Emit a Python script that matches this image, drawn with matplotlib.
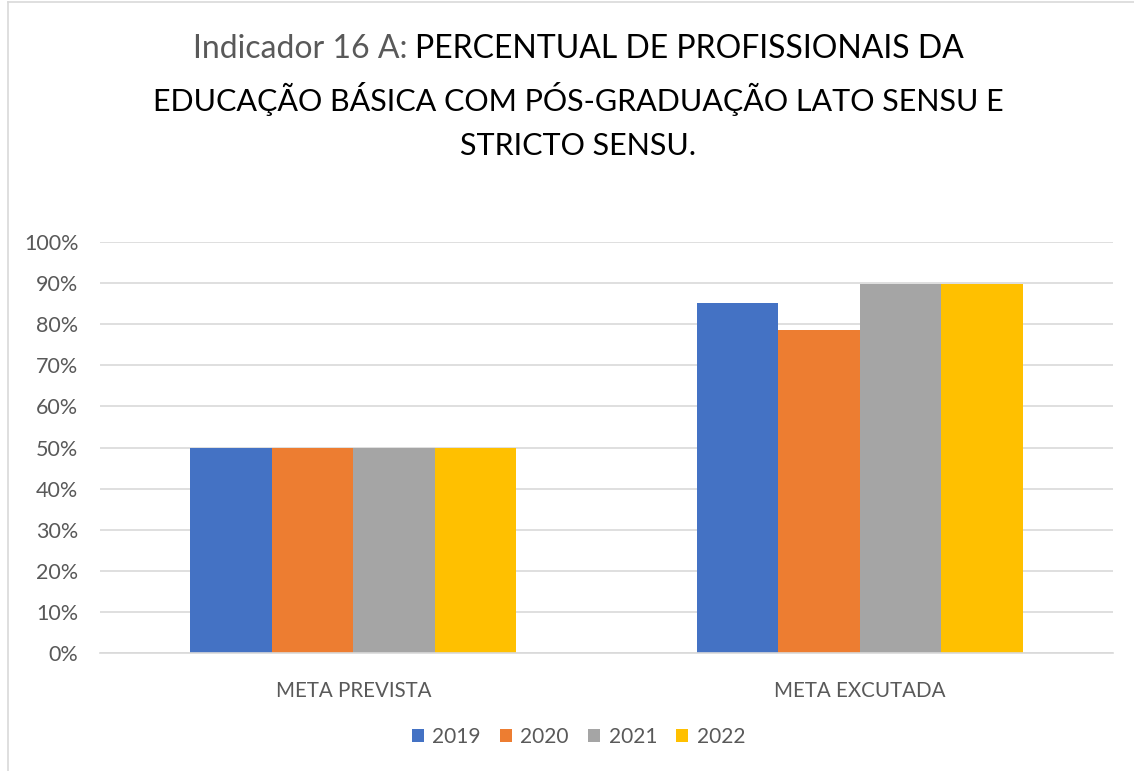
import numpy as np
import matplotlib.pyplot as plt
from matplotlib.lines import Line2D
from matplotlib.ticker import PercentFormatter

plt.rcParams['font.family'] = ['Lato', 'DejaVu Sans']

# dados
categorias = ['META PREVISTA', 'META EXCUTADA']
anos = ['2019', '2020', '2021', '2022']
v2019 = [0.50, 0.852]
v2020 = [0.50, 0.787]
v2021 = [0.50, 0.897]
v2022 = [0.50, 0.898]
cores = ['#4472C4', '#ED7D31', '#A5A5A5', '#FFC000']

series = [v2019, v2020, v2021, v2022]
texto_cinza = '#595959'

fig = plt.figure(figsize=(11.34, 7.71), dpi=100)
ax = fig.add_axes([0.0882, 0.153, 0.8933, 0.533])

x = np.arange(len(categorias))
largura = 0.161
for i, (serie, cor, ano) in enumerate(zip(series, cores, anos)):
    ax.bar(x + (i - 1.5) * largura, serie, width=largura, color=cor,
           label=ano, zorder=2)

ax.set_xlim(-0.5, 1.5)
ax.set_ylim(0, 1.0)
ax.set_yticks(np.arange(0, 1.01, 0.1))
ax.yaxis.set_major_formatter(PercentFormatter(1.0, decimals=0))
ax.set_xticks(x)
ax.set_xticklabels(categorias)
ax.grid(axis='y', color='#D9D9D9', linewidth=1.2, zorder=0)
ax.tick_params(axis='y', length=0, pad=15.5, labelsize=15.5, labelcolor=texto_cinza)
ax.tick_params(axis='x', length=0, pad=20, labelsize=14.8, labelcolor=texto_cinza)
for lado in ['top', 'right', 'left']:
    ax.spines[lado].set_visible(False)
ax.spines['bottom'].set_color('#D9D9D9')
ax.spines['bottom'].set_linewidth(1.2)

# titulo (duas cores na primeira linha)
tam_titulo = 22
t1 = fig.text(0.0, 0.0, 'Indicador 16 A: ', fontsize=tam_titulo + 1, color=texto_cinza)
t2 = fig.text(0.0, 0.0, 'PERCENTUAL DE PROFISSIONAIS DA', fontsize=tam_titulo + 1, color='black')
fig.canvas.draw()
r = fig.canvas.get_renderer()
w1 = t1.get_window_extent(r).width / fig.bbox.width
w2 = t2.get_window_extent(r).width / fig.bbox.width
x0 = 0.5 - (w1 + w2) / 2 + 0.01
t1.set_position((x0, 0.936))
t1.set_va('center')
t2.set_position((x0 + w1, 0.936))
t2.set_va('center')
fig.text(0.51, 0.872, 'EDUCAÇÃO BÁSICA COM PÓS-GRADUAÇÃO LATO SENSU E',
         fontsize=tam_titulo, ha='center', va='center', color='black')
fig.text(0.51, 0.810, 'STRICTO SENSU.', fontsize=tam_titulo, ha='center', va='center',
         color='black')

# legenda
fig.legend(loc='center', bbox_to_anchor=(0.51, 0.044), ncol=4, frameon=False,
           fontsize=15, labelcolor=texto_cinza, handlelength=0.6,
           handleheight=0.6, handletextpad=0.4, columnspacing=0.9)

# moldura do grafico
fig.add_artist(Line2D([8 / 1134, 8 / 1134], [0, 1 - 2 / 771], color='#D9D9D9', lw=1.2))
fig.add_artist(Line2D([8 / 1134, 1], [1 - 2 / 771, 1 - 2 / 771], color='#D9D9D9', lw=1.2))

fig.savefig('out.png', dpi=100)
